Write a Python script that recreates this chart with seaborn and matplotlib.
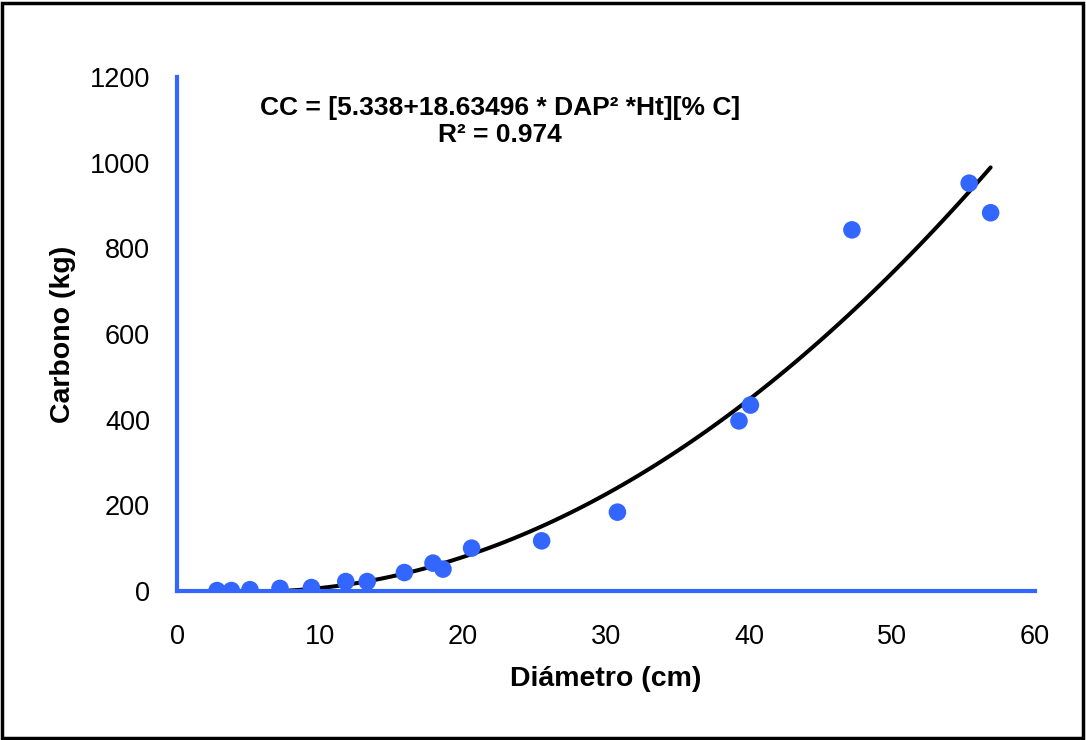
import numpy as np
import pandas as pd
import seaborn as sns
import matplotlib.pyplot as plt
from matplotlib.patches import Rectangle

# datos
diametro = [2.8, 3.8, 5.1, 7.2, 9.4, 11.8, 13.3, 15.9, 17.9, 18.6, 20.6,
            25.5, 30.8, 39.3, 40.1, 47.2, 55.4, 56.9]
carbono = [1, 1, 3, 6, 8, 22, 22, 43, 65, 51, 100,
           117, 184, 397, 434, 843, 952, 883]
xticks = [0, 10, 20, 30, 40, 50, 60]
yticks = [0, 200, 400, 600, 800, 1000, 1200]

azul = "#3366FF"

sns.set_style("white")
plt.rcParams['font.family'] = ['Liberation Sans', 'DejaVu Sans']
plt.rcParams['text.color'] = 'black'
plt.rcParams['axes.labelcolor'] = 'black'

df = pd.DataFrame({"Diametro": diametro, "Carbono": carbono})

fig = plt.figure(figsize=(10.86, 7.4), dpi=100)
ax = fig.add_axes([0.163, 0.2014, 0.79, 0.6946])

sns.scatterplot(data=df, x="Diametro", y="Carbono", color=azul, s=160,
                edgecolor="none", ax=ax, zorder=3)
# linea de tendencia polinomica
sns.regplot(data=df, x="Diametro", y="Carbono", order=2, ci=None,
            scatter=False, line_kws={"color": "black", "lw": 2.9}, ax=ax)

ax.set_xlim(0, 60)
ax.set_ylim(0, 1200)
ax.set_xticks(xticks)
ax.set_yticks(yticks)
ax.tick_params(axis="both", labelsize=19.5, colors=azul, labelcolor="black",
               direction="out", length=5.5, width=2.5)
ax.tick_params(axis="x", pad=18)
ax.tick_params(axis="y", pad=14)
for side in ["top", "right"]:
    ax.spines[side].set_visible(False)
for side in ["left", "bottom"]:
    ax.spines[side].set_color(azul)
    ax.spines[side].set_linewidth(3)

ax.set_xlabel("Diámetro (cm)", fontsize=20.5, fontweight="bold", labelpad=12)
ax.set_ylabel("Carbono (kg)", fontsize=20.5, fontweight="bold", labelpad=10)

ax.text(22.6, 1127, "CC = [5.338+18.63496 * DAP² *Ht][% C]", ha="center",
        va="center", fontsize=19, fontweight="bold")
ax.text(22.6, 1065, "R² = 0.974", ha="center", va="center",
        fontsize=19, fontweight="bold")

fig.patches.append(Rectangle((0.002, 0.003), 0.995, 0.993, transform=fig.transFigure,
                             fill=False, edgecolor="black", lw=2.5))

fig.savefig("out.png", dpi=100)
